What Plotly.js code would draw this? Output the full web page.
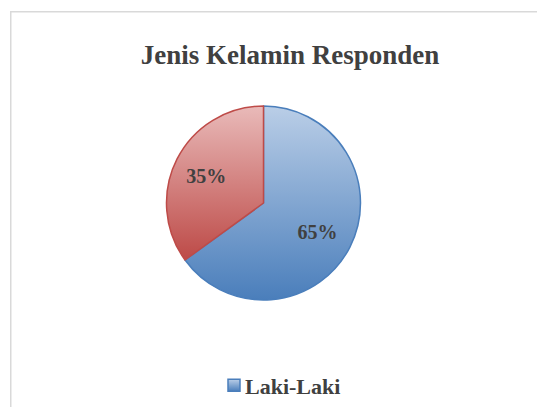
<!DOCTYPE html>
<html>
<head>
<meta charset="utf-8">
<script src="https://cdn.plot.ly/plotly-3.0.1.min.js"></script>
<style>
html,body{margin:0;padding:0;background:#fff;overflow:hidden;}
#chart{width:537px;height:407px;}
</style>
</head>
<body>
<div id="chart"></div>
<script>
// ---- data ----
const categories = ['Laki-Laki', 'Perempuan'];
const values = [65, 35];
const chartTitle = 'Jenis Kelamin Responden';
const legendShown = ['Laki-Laki'];   // entries visible in the (cropped) reference legend

// ---- styles ----
const baseColors = ['#7fa3d3', '#d27c7a'];
const lineColors = ['#4a7ebb', '#be4b48'];
const gradStops = [['#bacee7', '#4a7ebb'], ['#e9bab9', '#bd4a47']];
const labelRadiusFactor = 1.25;
const W = 537, H = 407;
const px = x => x / W;
const py = y => 1 - y / H;

const trace = {
  type: 'pie',
  labels: categories,
  values: values,
  sort: false,
  direction: 'clockwise',
  rotation: 0,
  textinfo: 'percent',
  textposition: 'inside',
  insidetextorientation: 'horizontal',
  textfont: {family: 'Liberation Serif', size: 20, color: '#404040', weight: 'bold'},
  marker: {colors: baseColors, line: {color: lineColors, width: 1.5}},
  domain: {x: [px(166.5), px(360.5)], y: [py(300), py(106)]},
  hoverinfo: 'label+percent'
};

const layout = {
  width: W, height: H,
  margin: {l: 0, r: 0, t: 0, b: 0, autoexpand: false},
  paper_bgcolor: '#ffffff',
  plot_bgcolor: '#ffffff',
  title: {
    text: chartTitle,
    font: {family: 'Liberation Serif', size: 27, color: '#404040', weight: 'bold'},
    x: px(290), xanchor: 'center', xref: 'paper',
    y: py(55), yanchor: 'middle', yref: 'container',
    automargin: false
  },
  showlegend: true,
  legend: {
    orientation: 'v',
    x: px(205), xanchor: 'left',
    y: py(364.5), yanchor: 'top',
    font: {family: 'Liberation Serif', size: 22, color: '#404040', weight: 'bold'},
    bgcolor: 'rgba(0,0,0,0)'
  },
  shapes: [{
    type: 'rect', xref: 'paper', yref: 'paper',
    x0: px(10.75), x1: 1.02, y0: -0.02, y1: py(11.75),
    line: {color: '#d9d9d9', width: 1.5}, fillcolor: 'rgba(0,0,0,0)', layer: 'below'
  }]
};

function finish(gd) {
  const svg = gd.querySelector('svg.main-svg');
  const ns = 'http://www.w3.org/2000/svg';
  let defs = svg.querySelector('defs');
  if (!defs) { defs = document.createElementNS(ns, 'defs'); svg.insertBefore(defs, svg.firstChild); }
  gradStops.forEach((st, i) => {
    const g = document.createElementNS(ns, 'linearGradient');
    g.setAttribute('id', 'pieGrad' + i);
    g.setAttribute('x1', '0'); g.setAttribute('y1', '0');
    g.setAttribute('x2', '0'); g.setAttribute('y2', '1');
    [[0, st[0]], [1, st[1]]].forEach(([o, c]) => {
      const s = document.createElementNS(ns, 'stop');
      s.setAttribute('offset', o); s.setAttribute('stop-color', c);
      g.appendChild(s);
    });
    defs.appendChild(g);
  });
  // gradient fills on slices
  gd.querySelectorAll('g.slice').forEach((sl, i) => {
    const p = sl.querySelector('path.surface');
    if (p) p.style.fill = 'url(#pieGrad' + (i % gradStops.length) + ')';
  });
  // push inside labels a bit outward along their bisector (Excel-style placement)
  const cd0 = gd.calcdata[0][0];
  const cx = cd0.cx, cy = cd0.cy;
  gd.querySelectorAll('g.slice text.slicetext').forEach(t => {
    const tr = t.getAttribute('transform') || '';
    const m = tr.match(/^translate\(\s*([-\d.e]+)[ ,]+([-\d.e]+)\s*\)/);
    if (!m) return;
    const x = parseFloat(m[1]), y = parseFloat(m[2]);
    const nx = cx + (x - cx) * labelRadiusFactor;
    const ny = cy + (y - cy) * labelRadiusFactor;
    t.setAttribute('transform', tr.replace(m[0], 'translate(' + nx + ',' + ny + ')'));
  });
  // legend: gradient symbol, only the entries visible in the reference
  gd.querySelectorAll('g.legend g.traces').forEach((t, i) => {
    const label = categories[i];
    if (legendShown.indexOf(label) < 0) { t.remove(); return; }
    const p = t.querySelector('path.legendpie');
    if (p) p.style.fill = 'url(#pieGrad' + (i % gradStops.length) + ')';
    const lp = t.querySelector('g.legendpoints');
    if (lp) lp.setAttribute('transform', 'translate(9,0)');
  });
}

Plotly.newPlot('chart', [trace], layout, {displayModeBar: false, staticPlot: true})
  .then(finish);
</script>
</body>
</html>
